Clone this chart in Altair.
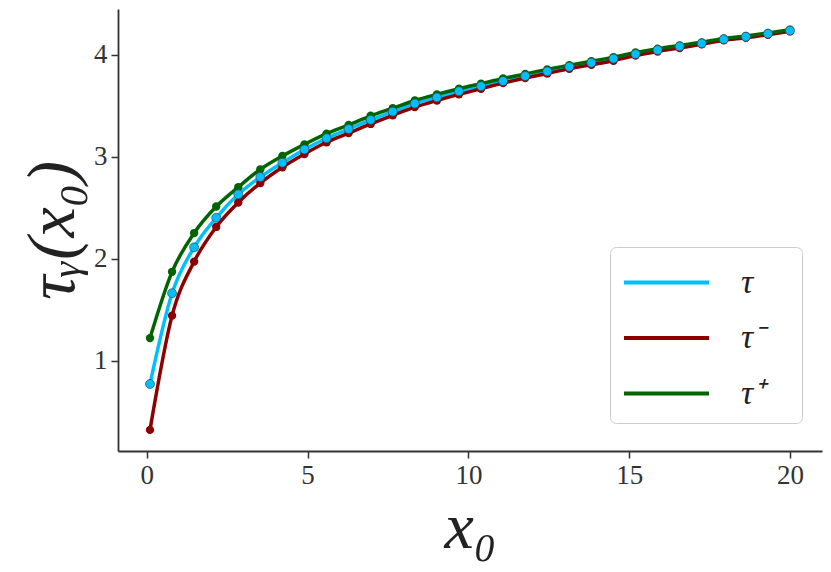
import altair as alt
import numpy as np
import pandas as pd

x0 = [0.1, 0.786, 1.472, 2.159, 2.845, 3.531, 4.217, 4.903, 5.590, 6.276,
      6.962, 7.648, 8.334, 9.021, 9.707, 10.393, 11.079, 11.766, 12.452, 13.138,
      13.824, 14.510, 15.197, 15.883, 16.569, 17.255, 17.941, 18.628, 19.314, 20.0]

tau = [0.77, 1.66, 2.11, 2.40, 2.63, 2.80, 2.94, 3.07, 3.18, 3.27,
       3.36, 3.44, 3.52, 3.58, 3.64, 3.69, 3.74, 3.79, 3.835, 3.88,
       3.92, 3.96, 4.005, 4.045, 4.08, 4.11, 4.15, 4.175, 4.205, 4.235]

tau_minus = [0.32, 1.44, 1.97, 2.31, 2.55, 2.74, 2.895, 3.025, 3.14, 3.23,
             3.32, 3.405, 3.485, 3.55, 3.61, 3.665, 3.72, 3.77, 3.815, 3.86,
             3.90, 3.94, 3.99, 4.03, 4.065, 4.10, 4.14, 4.165, 4.195, 4.228]

tau_plus = [1.22, 1.87, 2.25, 2.51, 2.70, 2.875, 3.006, 3.12, 3.225, 3.31,
            3.40, 3.475, 3.55, 3.61, 3.665, 3.715, 3.765, 3.81, 3.855, 3.895,
            3.935, 3.975, 4.02, 4.058, 4.09, 4.12, 4.158, 4.183, 4.212, 4.243]

series_names = ["τ", "τ⁻", "τ⁺"]
series_colors = ["#00bfff", "#8b0000", "#006400"]

x_ticks = [0, 5, 10, 15, 20]
y_ticks = [1, 2, 3, 4]

frames = []
for name, vals in zip(series_names, [tau, tau_minus, tau_plus]):
    frames.append(pd.DataFrame({"x0": x0, "value": vals, "series": name}))
df = pd.concat(frames, ignore_index=True)

W, H = 704, 442
xdom = [-0.895, 20.995]
ydom = [0.113, 4.447]

label_font = "Liberation Serif"
title_font = "Liberation Serif"

x_enc = alt.X("x0:Q", scale=alt.Scale(domain=xdom, nice=False, zero=False),
              axis=alt.Axis(values=x_ticks, format="d", title="x₀", grid=False,
                            titleFont=title_font, titleFontSize=66,
                            titleFontStyle="italic", titleFontWeight="normal",
                            titleColor="#222222",
                            titleX=W / 2, titleY=96, titleBaseline="alphabetic",
                            titleAlign="center"))
y_enc = alt.Y("value:Q", scale=alt.Scale(domain=ydom, nice=False, zero=False),
              axis=alt.Axis(values=y_ticks, format="d", title="τᵧ(x₀)", grid=False,
                            titleFont=title_font, titleFontSize=68,
                            titleFontStyle="italic", titleFontWeight="normal",
                            titleColor="#222222",
                            titleAngle=270, titleX=-45, titleY=H / 2,
                            titleBaseline="alphabetic", titleAlign="center"))

base = alt.Chart(df)

lines = base.mark_line(strokeWidth=3.5, interpolate="monotone").encode(
    x=x_enc, y=y_enc,
    color=alt.Color("series:N",
                    scale=alt.Scale(domain=series_names, range=series_colors),
                    sort=series_names,
                    legend=alt.Legend(
                        title=None, orient="none", legendX=492, legendY=238,
                        symbolType="M-2,0H2", symbolSize=1806, symbolStrokeWidth=4,
                        symbolOffset=21, symbolFillColor="transparent",
                        labelFont=title_font, labelFontSize=34, labelFontStyle="italic",
                        labelColor="#222222", labelOffset=51, rowPadding=14.5,
                        padding=12, strokeColor="#cccccc", cornerRadius=6,
                        fillColor="white",
                        labelExpr="datum.label + '\u2800'")),
    order=alt.Order("x0:Q"),
)

def pts(name, color, size, stroke=None):
    kw = dict(filled=True, size=size, opacity=1, color=color)
    if stroke:
        kw.update(stroke=stroke, strokeWidth=0.7)
    return base.transform_filter(alt.datum.series == name).mark_point(**kw).encode(
        x="x0:Q", y="value:Q")

chart = alt.layer(
    lines,
    pts("τ⁻", "#8b0000", 70),
    pts("τ⁺", "#006400", 70),
    pts("τ", "#00bfff", 80, stroke="#3a4a55"),
).properties(
    width=W, height=H,
    autosize=alt.AutoSizeParams(type="none"),
    padding={"left": 110, "top": 1, "right": 1, "bottom": 113},
).configure_view(stroke=None).configure_axis(
    labelFont=label_font, labelFontSize=27, labelColor="#333333",
    tickSize=7, tickWidth=1.5, tickColor="#333333",
    domainColor="#333333", domainWidth=1.8, labelPadding=4,
)

chart.save("out.html", embed_options={"renderer": "svg", "actions": False})
